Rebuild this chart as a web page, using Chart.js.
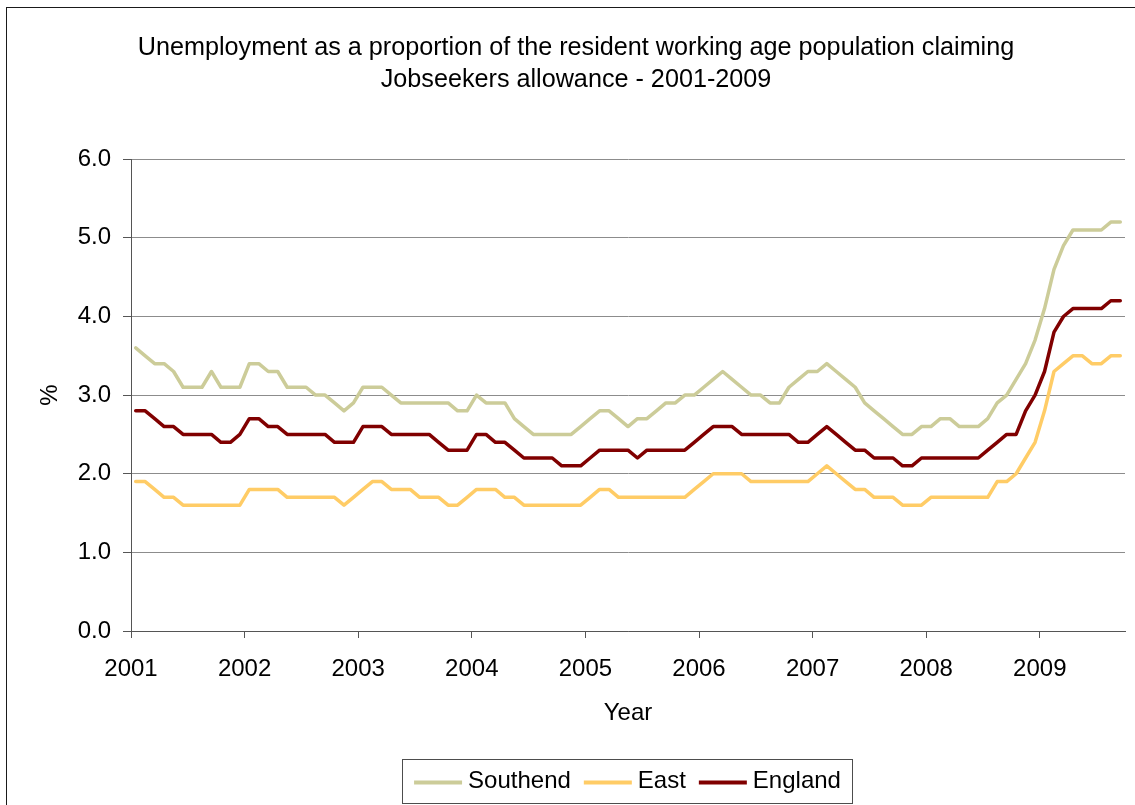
<!DOCTYPE html>
<html>
<head>
<meta charset="utf-8">
<script src="https://cdn.jsdelivr.net/npm/chart.js@4.4.1/dist/chart.umd.min.js"></script>
<style>
  html, body { margin: 0; padding: 0; background: #fff; }
  canvas { display: block; }
</style>
</head>
<body>
<canvas id="chart" width="1135" height="805"></canvas>
<script>
// Claimant count rate (% of resident working age population), monthly from January 2001
const titleLines = [
  'Unemployment as a proportion of the resident working age population claiming',
  'Jobseekers allowance - 2001-2009'
];
const firstYear = 2001;
const yearTicks = [2001, 2002, 2003, 2004, 2005, 2006, 2007, 2008, 2009];
const valueTicks = [0, 1, 2, 3, 4, 5, 6];
const seriesNames = ['Southend', 'East', 'England'];

const southend = [
  3.6, 3.5, 3.4, 3.4, 3.3, 3.1, 3.1, 3.1, 3.3, 3.1, 3.1, 3.1,   // 2001
  3.4, 3.4, 3.3, 3.3, 3.1, 3.1, 3.1, 3.0, 3.0, 2.9, 2.8, 2.9,   // 2002
  3.1, 3.1, 3.1, 3.0, 2.9, 2.9, 2.9, 2.9, 2.9, 2.9, 2.8, 2.8,   // 2003
  3.0, 2.9, 2.9, 2.9, 2.7, 2.6, 2.5, 2.5, 2.5, 2.5, 2.5, 2.6,   // 2004
  2.7, 2.8, 2.8, 2.7, 2.6, 2.7, 2.7, 2.8, 2.9, 2.9, 3.0, 3.0,   // 2005
  3.1, 3.2, 3.3, 3.2, 3.1, 3.0, 3.0, 2.9, 2.9, 3.1, 3.2, 3.3,   // 2006
  3.3, 3.4, 3.3, 3.2, 3.1, 2.9, 2.8, 2.7, 2.6, 2.5, 2.5, 2.6,   // 2007
  2.6, 2.7, 2.7, 2.6, 2.6, 2.6, 2.7, 2.9, 3.0, 3.2, 3.4, 3.7,   // 2008
  4.1, 4.6, 4.9, 5.1, 5.1, 5.1, 5.1, 5.2, 5.2                   // 2009
];
const east = [
  1.9, 1.9, 1.8, 1.7, 1.7, 1.6, 1.6, 1.6, 1.6, 1.6, 1.6, 1.6,
  1.8, 1.8, 1.8, 1.8, 1.7, 1.7, 1.7, 1.7, 1.7, 1.7, 1.6, 1.7,
  1.8, 1.9, 1.9, 1.8, 1.8, 1.8, 1.7, 1.7, 1.7, 1.6, 1.6, 1.7,
  1.8, 1.8, 1.8, 1.7, 1.7, 1.6, 1.6, 1.6, 1.6, 1.6, 1.6, 1.6,
  1.7, 1.8, 1.8, 1.7, 1.7, 1.7, 1.7, 1.7, 1.7, 1.7, 1.7, 1.8,
  1.9, 2.0, 2.0, 2.0, 2.0, 1.9, 1.9, 1.9, 1.9, 1.9, 1.9, 1.9,
  2.0, 2.1, 2.0, 1.9, 1.8, 1.8, 1.7, 1.7, 1.7, 1.6, 1.6, 1.6,
  1.7, 1.7, 1.7, 1.7, 1.7, 1.7, 1.7, 1.9, 1.9, 2.0, 2.2, 2.4,
  2.8, 3.3, 3.4, 3.5, 3.5, 3.4, 3.4, 3.5, 3.5
];
const england = [
  2.8, 2.8, 2.7, 2.6, 2.6, 2.5, 2.5, 2.5, 2.5, 2.4, 2.4, 2.5,
  2.7, 2.7, 2.6, 2.6, 2.5, 2.5, 2.5, 2.5, 2.5, 2.4, 2.4, 2.4,
  2.6, 2.6, 2.6, 2.5, 2.5, 2.5, 2.5, 2.5, 2.4, 2.3, 2.3, 2.3,
  2.5, 2.5, 2.4, 2.4, 2.3, 2.2, 2.2, 2.2, 2.2, 2.1, 2.1, 2.1,
  2.2, 2.3, 2.3, 2.3, 2.3, 2.2, 2.3, 2.3, 2.3, 2.3, 2.3, 2.4,
  2.5, 2.6, 2.6, 2.6, 2.5, 2.5, 2.5, 2.5, 2.5, 2.5, 2.4, 2.4,
  2.5, 2.6, 2.5, 2.4, 2.3, 2.3, 2.2, 2.2, 2.2, 2.1, 2.1, 2.2,
  2.2, 2.2, 2.2, 2.2, 2.2, 2.2, 2.3, 2.4, 2.5, 2.5, 2.8, 3.0,
  3.3, 3.8, 4.0, 4.1, 4.1, 4.1, 4.1, 4.2, 4.2
];

const FONT = '"Liberation Sans", Arial, Helvetica, sans-serif';
Chart.defaults.font.family = FONT;
Chart.defaults.color = '#000';

// each monthly value sits at the middle of its month on a year axis
const toPoints = values => values.map((v, i) => ({ x: firstYear + (i + 0.5) / 12, y: v }));

const colours = ['#CCCC99', '#FFCC66', '#800000'];
const seriesValues = [southend, east, england];

// white page with the thin outer frame of the chart object
const framePlugin = {
  id: 'frame',
  beforeDraw(chart) {
    const { ctx, width, height } = chart;
    ctx.save();
    ctx.fillStyle = '#fff';
    ctx.fillRect(0, 0, width, height);
    ctx.strokeStyle = '#1a1a1a';
    ctx.lineWidth = 1;
    ctx.strokeRect(6.5, 7.5, width + 20, height + 20);
    ctx.restore();
  }
};

// boxed legend under the axis title: a line sample and the series name per item
const boxedLegend = {
  id: 'boxedLegend',
  afterDraw(chart) {
    const { ctx } = chart;
    const box = { left: 402.5, right: 852.5, top: 759.5, bottom: 803.5 };
    const lineLen = 48, textGap = 6, itemGap = 13, lineY = 782.5, textBaseline = 788;
    ctx.save();
    ctx.font = '24px ' + FONT;
    const items = chart.data.datasets.map(d => ({
      label: d.label, colour: d.borderColor, w: ctx.measureText(d.label).width
    }));
    const total = items.reduce((s, it) => s + lineLen + textGap + it.w, 0) + itemGap * (items.length - 1);
    ctx.strokeStyle = '#4d4d4d';
    ctx.lineWidth = 1;
    ctx.strokeRect(box.left, box.top, box.right - box.left, box.bottom - box.top);
    let x = (box.left + box.right) / 2 - total / 2;
    items.forEach(it => {
      ctx.strokeStyle = it.colour;
      ctx.lineWidth = 4;
      ctx.beginPath();
      ctx.moveTo(x, lineY);
      ctx.lineTo(x + lineLen, lineY);
      ctx.stroke();
      x += lineLen + textGap;
      ctx.fillStyle = '#000';
      ctx.textBaseline = 'alphabetic';
      ctx.textAlign = 'left';
      ctx.fillText(it.label, x, textBaseline);
      x += it.w + itemGap;
    });
    ctx.restore();
  }
};

new Chart(document.getElementById('chart'), {
  type: 'line',
  data: {
    datasets: seriesNames.map((name, k) => ({
      label: name,
      data: toPoints(seriesValues[k]),
      borderColor: colours[k],
      backgroundColor: colours[k],
      borderWidth: 3.5,
      pointRadius: 0,
      tension: 0,
      borderJoinStyle: 'round',
      borderCapStyle: 'round',
      fill: false
    }))
  },
  options: {
    responsive: false,
    animation: false,
    devicePixelRatio: 1,
    layout: { padding: { left: 27, right: 10, top: 0, bottom: 0 } },
    plugins: {
      legend: { display: false },
      tooltip: { enabled: false },
      title: {
        display: true,
        text: titleLines,
        color: '#000',
        font: { size: 25.2, weight: 'normal', lineHeight: 1.28 },
        padding: { top: 31.5, bottom: 63.2 }
      }
    },
    scales: {
      x: {
        type: 'linear',
        min: firstYear,
        max: 2009.75,
        afterFit: s => { s.height = 174; },
        afterBuildTicks: s => { s.ticks = yearTicks.map(v => ({ value: v })); },
        grid: { drawOnChartArea: false, drawTicks: true, tickLength: 7, tickColor: '#555', tickWidth: 1 },
        border: { display: true, color: '#555', width: 1 },
        ticks: { autoSkip: false, maxRotation: 0, padding: 17, font: { size: 24 }, color: '#000',
                 callback: v => String(v) },
        title: { display: true, text: 'Year', color: '#000', font: { size: 24 }, padding: { top: 0, bottom: 77 } }
      },
      y: {
        min: 0,
        max: 6,
        afterFit: s => { s.width = 104; },
        afterBuildTicks: s => { s.ticks = valueTicks.map(v => ({ value: v })); },
        grid: { color: '#8c8c8c', lineWidth: 1, tickColor: '#555', tickLength: 8, drawTicks: true },
        border: { display: true, color: '#555', width: 1 },
        ticks: { padding: 12, font: { size: 24 }, color: '#000', callback: v => Number(v).toFixed(1) },
        title: { display: true, text: '%', color: '#000', font: { size: 24 }, padding: { top: 8.5, bottom: 0 } }
      }
    }
  },
  plugins: [framePlugin, boxedLegend]
});
</script>
</body>
</html>
